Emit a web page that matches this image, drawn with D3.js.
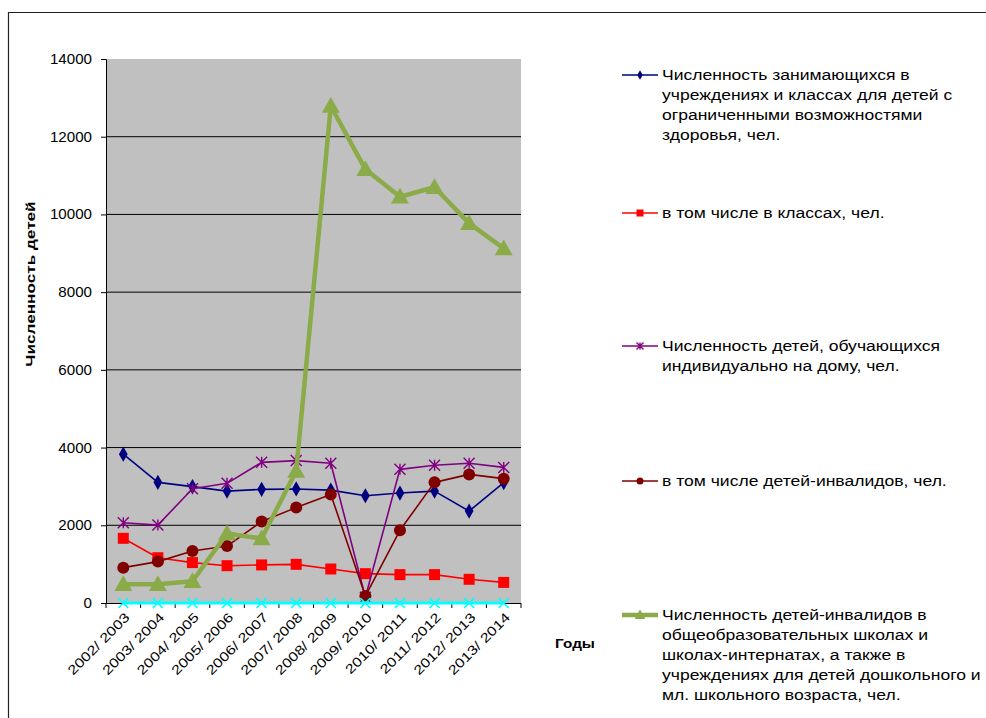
<!DOCTYPE html>
<html>
<head>
<meta charset="utf-8">
<script src="https://cdn.jsdelivr.net/npm/d3@7"></script>
<style>
  body { margin: 0; background: #fff; }
  svg { display: block; font-family: Arial, "Liberation Sans", sans-serif; }
</style>
</head>
<body>
<svg id="chart" width="986" height="718"></svg>
<script>
const years = ["2002/ 2003", "2003/ 2004", "2004/ 2005", "2005/ 2006", "2006/ 2007", "2007/ 2008",
    "2008/ 2009", "2009/ 2010", "2010/ 2011", "2011/ 2012", "2012/ 2013", "2013/ 2014"];

const enrolled = [3830, 3105, 2995, 2880, 2925, 2935, 2905, 2760, 2830, 2880, 2365, 3100];
const inClasses = [1665, 1165, 1040, 960, 980, 995, 875, 755, 730, 730, 610, 530];
const homeSchooled = [2065, 2005, 2940, 3080, 3620, 3665, 3595, 150, 3440, 3545, 3595, 3490];
const disabledHome = [910, 1065, 1340, 1465, 2095, 2455, 2795, 180, 1870, 3105, 3310, 3200];
const disabledSchools = [480, 480, 560, 1790, 1660, 3400, 12790, 11160, 10455, 10700, 9770, 9125];
const sixth = [0, 0, 0, 0, 0, 0, 0, 0, 0, 0, 0, 0];

const yTicks = [0, 2000, 4000, 6000, 8000, 10000, 12000, 14000];

const series = [
    { name: ["Численность занимающихся в", "учреждениях и классах для детей с", "ограниченными возможностями", "здоровья, чел."],
      values: enrolled, color: "#000080", width: 1.6, marker: "diamond", legendY: 75 },
    { name: ["в том числе в классах, чел."],
      values: inClasses, color: "#ff0000", width: 1.6, marker: "square", legendY: 213 },
    { name: ["Численность детей, обучающихся", "индивидуально на дому, чел."],
      values: homeSchooled, color: "#800080", width: 1.6, marker: "star", legendY: 346 },
    { name: ["в том числе детей-инвалидов, чел."],
      values: disabledHome, color: "#800000", width: 1.6, marker: "circle", legendY: 481 },
    { name: ["Численность детей-инвалидов в", "общеобразовательных школах и", "школах-интернатах, а также  в", "учреждениях для детей дошкольного и", "мл. школьного возраста, чел."],
      values: disabledSchools, color: "#8aab48", width: 4.5, marker: "triangle", legendY: 615 },
    { name: null, values: sixth, color: "#00ffff", width: 3, marker: "cross", legendY: null }
];

const svg = d3.select("#chart");
const plot = { left: 106, top: 59, right: 521, bottom: 603 };

// outer chart frame
svg.append("path")
    .attr("d", "M8.5,718 V12.5 H986")
    .attr("fill", "none")
    .attr("stroke", "#222")
    .attr("stroke-width", 1.2);

const x = d3.scaleBand().domain(years).range([plot.left, plot.right]);
const y = d3.scaleLinear().domain([0, 14000]).range([plot.bottom, plot.top]);
const cx = d => x(d) + x.bandwidth() / 2;

svg.append("rect")
    .attr("x", plot.left).attr("y", plot.top)
    .attr("width", plot.right - plot.left).attr("height", plot.bottom - plot.top)
    .attr("fill", "#c0c0c0");

svg.append("g")
    .selectAll("line")
    .data(yTicks.filter(t => t > 0 && t < 14000))
    .join("line")
    .attr("x1", plot.left).attr("x2", plot.right)
    .attr("y1", d => y(d)).attr("y2", d => y(d))
    .attr("stroke", "#000").attr("stroke-width", 1);

// y axis
const yAxis = svg.append("g")
    .attr("transform", `translate(${plot.left},0)`)
    .call(d3.axisLeft(y).tickValues(yTicks).tickSize(5).tickPadding(8).tickFormat(d3.format("d")));
yAxis.selectAll("text")
    .attr("font-size", 14).attr("fill", "#000")
    .attr("font-family", "Arial, 'Liberation Sans', sans-serif")
    .attr("transform", "scale(1.08,1)");
yAxis.selectAll("line, path").attr("stroke", "#000");

// x axis with ticks at category boundaries
const xAxisG = svg.append("g");
xAxisG.append("line")
    .attr("x1", plot.left).attr("x2", plot.right)
    .attr("y1", plot.bottom + 0.5).attr("y2", plot.bottom + 0.5)
    .attr("stroke", "#000");
xAxisG.selectAll("line.tk")
    .data(years.concat(["end"]))
    .join("line")
    .attr("class", "tk")
    .attr("x1", (d, i) => i < years.length ? x(d) : plot.right)
    .attr("x2", (d, i) => i < years.length ? x(d) : plot.right)
    .attr("y1", plot.bottom).attr("y2", plot.bottom + 5)
    .attr("stroke", "#000");
xAxisG.selectAll("text")
    .data(years)
    .join("text")
    .attr("transform", d => `translate(${cx(d) + 4},${plot.bottom + 12}) rotate(-45) scale(1.25,1)`)
    .attr("text-anchor", "end")
    .attr("dy", "0.35em")
    .attr("font-size", 13)
    .text(d => d);

// axis titles
svg.append("text")
    .attr("transform", "translate(35,284) rotate(-90) scale(1.32,1)")
    .attr("text-anchor", "middle")
    .attr("font-size", 13).attr("font-weight", "bold")
    .text("Численность детей");
svg.append("text")
    .attr("transform", "translate(575,648) scale(1.18,1)")
    .attr("text-anchor", "middle")
    .attr("font-size", 13).attr("font-weight", "bold")
    .text("Годы");

function drawMarker(g, type, color, s) {
    if (type === "diamond") {
        g.append("path").attr("d", d3.symbol(d3.symbolDiamond, s * s * 0.55)()).attr("fill", color);
    } else if (type === "square") {
        g.append("rect").attr("x", -s / 2).attr("y", -s / 2).attr("width", s).attr("height", s).attr("fill", color);
    } else if (type === "circle") {
        g.append("circle").attr("r", s / 2).attr("fill", color);
    } else if (type === "triangle") {
        g.append("path").attr("d", `M0,${-s * 0.6}L${s * 0.6},${s * 0.45}L${-s * 0.6},${s * 0.45}Z`).attr("fill", color);
    } else if (type === "star") {
        const r = s / 2;
        g.append("path")
            .attr("d", `M${-r},${-r}L${r},${r}M${-r},${r}L${r},${-r}M0,${-r}V${r}`)
            .attr("stroke", color).attr("stroke-width", 1.4).attr("fill", "none");
    } else if (type === "cross") {
        const r = s / 2;
        g.append("path")
            .attr("d", `M${-r},${-r}L${r},${r}M${-r},${r}L${r},${-r}`)
            .attr("stroke", color).attr("stroke-width", 1.6).attr("fill", "none");
    }
}

const markerSize = { diamond: 11, square: 11, circle: 12, triangle: 15, star: 11, cross: 10 };

const line = d3.line().x((d, i) => cx(years[i])).y(d => y(d));

series.forEach(s => {
    const g = svg.append("g");
    g.append("path")
        .datum(s.values)
        .attr("d", line)
        .attr("fill", "none")
        .attr("stroke", s.color)
        .attr("stroke-width", s.width)
        .attr("stroke-linejoin", "round");
    g.selectAll("g.m")
        .data(s.values)
        .join("g")
        .attr("class", "m")
        .attr("transform", (d, i) => `translate(${cx(years[i])},${y(d)})`)
        .each(function () { drawMarker(d3.select(this), s.marker, s.color, markerSize[s.marker]); });
});

// legend
const legend = svg.append("g");
series.filter(s => s.name).forEach(s => {
    const g = legend.append("g").attr("transform", `translate(0,${s.legendY})`);
    g.append("line")
        .attr("x1", 622).attr("x2", 658).attr("y1", 0).attr("y2", 0)
        .attr("stroke", s.color).attr("stroke-width", s.width);
    const m = g.append("g").attr("transform", "translate(640,0)");
    drawMarker(m, s.marker, s.color, s.marker === "triangle" ? 9 : 7);
    g.append("text")
        .attr("transform", "translate(662,0) scale(1.17,1)")
        .attr("font-size", 15)
        .selectAll("tspan")
        .data(s.name)
        .join("tspan")
        .attr("x", 0)
        .attr("y", (d, i) => i * 20)
        .attr("dy", "0.35em")
        .text(d => d);
});
</script>
</body>
</html>
